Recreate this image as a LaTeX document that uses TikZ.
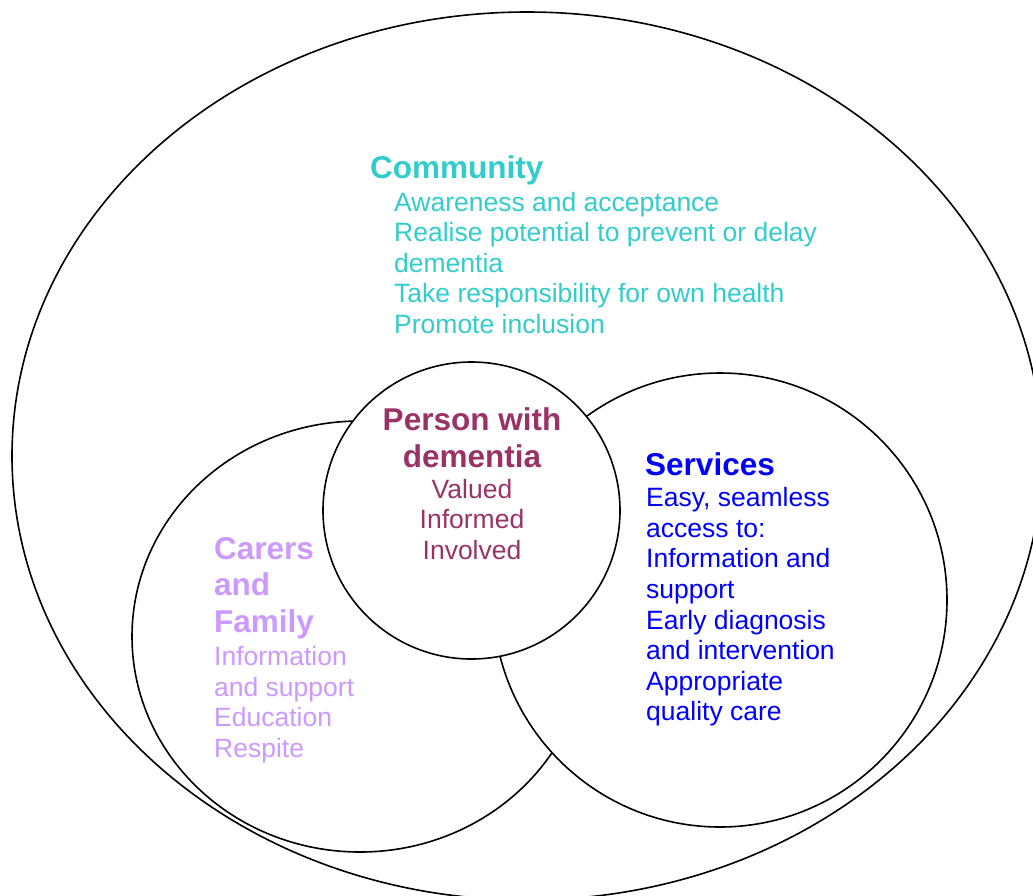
\documentclass[tikz,border=0pt]{standalone}
\usepackage{fontspec}
\setmainfont{Liberation Sans}
\definecolor{commc}{HTML}{33CCCC}
\definecolor{persc}{HTML}{993366}
\definecolor{carec}{HTML}{CC99FF}
\definecolor{servc}{HTML}{0000FF}
\newcommand\stackL[1]{\vtop{\halign{##\hfil\cr#1\crcr}}}
\newcommand\stackC[1]{\vtop{\halign{\hfil##\hfil\cr#1\crcr}}}
\tikzset{
  ring/.style={draw=black, line width=1.6pt, fill=white},
  txt/.style={inner sep=0pt, anchor=base west},
  ctxt/.style={inner sep=0pt, anchor=base},
  head/.style={font=\fontsize{31.5}{36.5}\selectfont\bfseries},
  body/.style={font=\fontsize{26.5}{30.6}\selectfont},
}
\begin{document}
\begin{tikzpicture}[x=1pt,y=-1pt]
\useasboundingbox (0,0) rectangle (1033,895);
\clip (0,0) rectangle (1033,895);
% shapes
\draw[ring] (527,456) ellipse [x radius=515, y radius=444];
\draw[ring] (360,636.5) ellipse [x radius=228, y radius=215.5];
\draw[ring] (720,600) circle [radius=227];
\draw[ring] (471.5,510.5) circle [radius=148.5];
% Community
\node[txt, head, text=commc] (commh) at (370,178) {Community};
\node[txt, body, text=commc] (commb) at (394,211) {\stackL{Awareness and acceptance\cr
Realise potential to prevent or delay\cr
dementia\cr
Take responsibility for own health\cr
Promote inclusion}};
% Person
\node[ctxt, head, text=persc] (persh) at (472,430.7) {\stackC{Person with\cr dementia}};
\node[ctxt, body, text=persc] (persb) at (472,498.3) {\stackC{Valued\cr Informed\cr Involved}};
% Services
\node[txt, head, text=servc] (servh) at (645,475) {Services};
\node[txt, body, text=servc] (servb) at (646,506.7) {\stackL{Easy, seamless\cr
access to:\cr
Information and\cr
support\cr
Early diagnosis\cr
and intervention\cr
Appropriate\cr
quality care}};
% Carers
\node[txt, head, text=carec] (careh) at (214,559) {\stackL{Carers\cr and\cr Family}};
\node[txt, body, text=carec] (careb) at (214,665.7) {\stackL{Information\cr
and support\cr
Education\cr
Respite}};
\end{tikzpicture}
\end{document}
